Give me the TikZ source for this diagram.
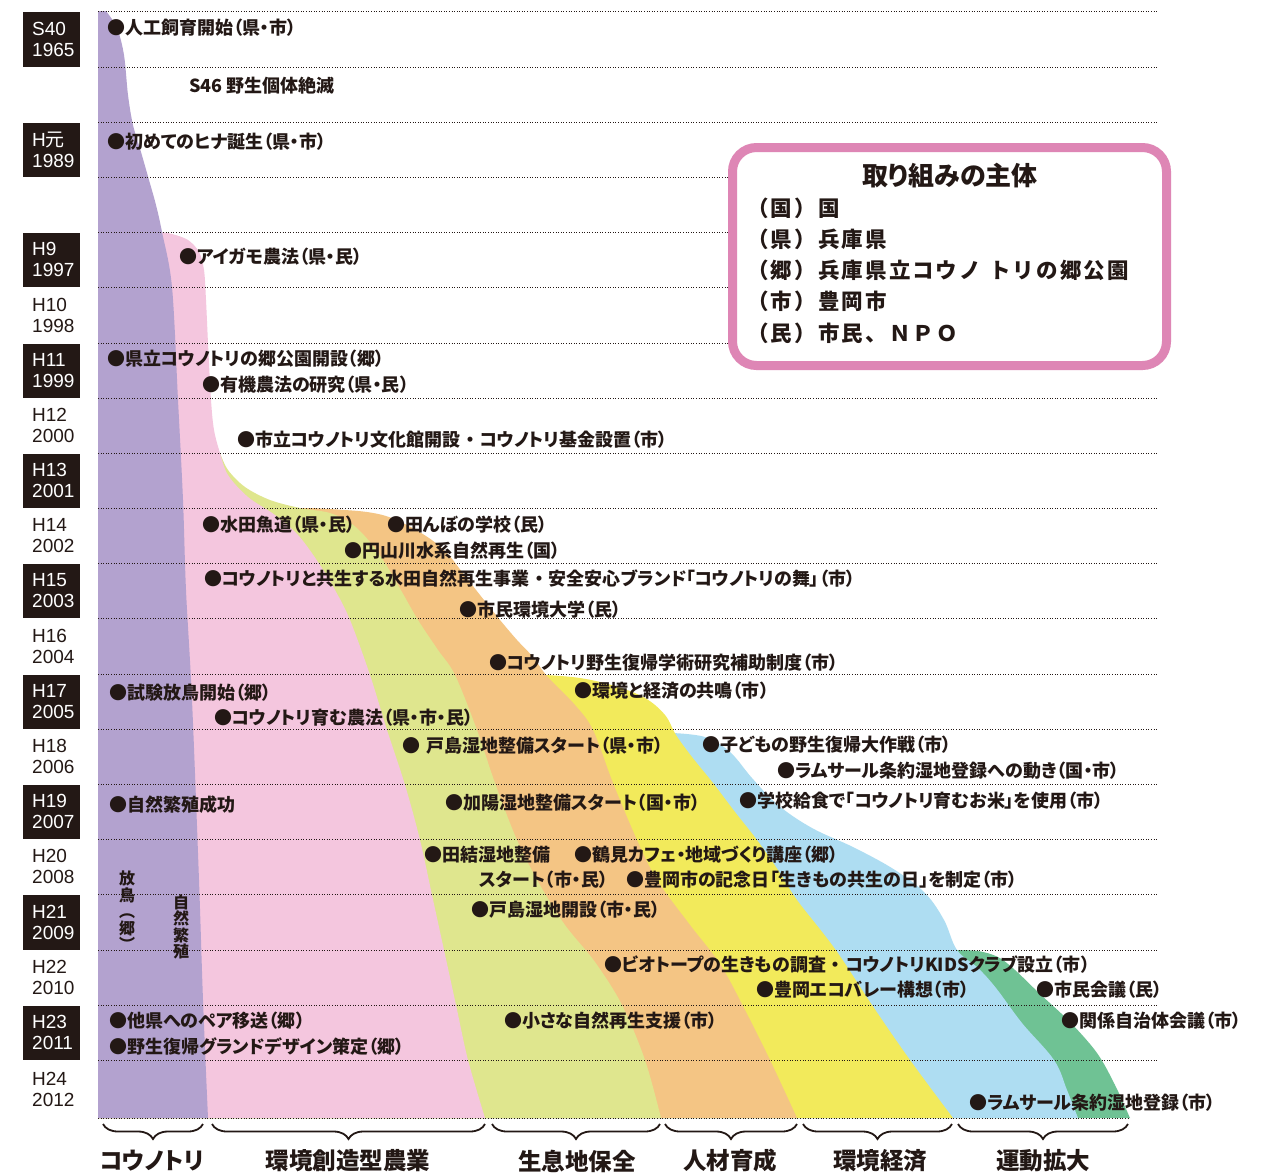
\documentclass[tikz,border=0pt]{standalone}
\usepackage{fontspec}
\setmainfont{Noto Sans CJK JP}[RawFeature=+palt]
\newfontfamily\jpf{Noto Sans CJK JP}
\newfontfamily\jpwide[LetterSpace=10]{Noto Sans CJK JP}
\newfontfamily\yrf{Liberation Sans}
\usetikzlibrary{decorations.pathreplacing}
\definecolor{ink}{HTML}{231815}
\definecolor{cPur}{HTML}{B3A2CF}
\definecolor{cPnk}{HTML}{F4C6DE}
\definecolor{cLgr}{HTML}{DFE68E}
\definecolor{cOra}{HTML}{F4C584}
\definecolor{cYel}{HTML}{F2EA5B}
\definecolor{cBlu}{HTML}{AEDDF2}
\definecolor{cGrn}{HTML}{6FC294}
\definecolor{cLeg}{HTML}{DE86B5}
\newcommand\midsep{\hspace{0.3em}・\hspace{0.3em}}
\tikzset{
 lbl/.style={anchor=west, inner sep=0pt, text=ink, font=\bfseries\fontsize{18}{20}\selectfont},
 yrtxt/.style={anchor=west, inner sep=0pt, align=left, font=\yrf\fontsize{19}{21}\selectfont},
 gline/.style={draw=ink, line width=0.9pt, dash pattern=on 0.9pt off 1.7pt},
 cat/.style={inner sep=0pt, text=ink, font=\bfseries\fontsize{23.5}{26}\selectfont},
 brc/.style={draw=ink, line width=1.8pt, decorate, decoration={brace, mirror, amplitude=15pt}},
 vtxt/.style={inner sep=0pt, align=center, text=ink, font=\jpf\bfseries\fontsize{16}{16.5}\selectfont},
 leg/.style={anchor=west, inner sep=0pt, text=ink, font=\jpwide\bfseries\fontsize{21.5}{24}\selectfont},
}
\begin{document}
\begin{tikzpicture}[x=1pt,y=-1pt]
\fill[white] (0,0) rectangle (1278,1176);
\useasboundingbox (0,0) rectangle (1278,1176);

% ---- stream layers (outer first) ----
\fill[cGrn] (98,1118) -- (98,950) -- plot[smooth,tension=0.55] coordinates {(955,950) (978,951) (998,957) (1015,970) (1040,994) (1070,1022) (1097,1053) (1115,1085) (1130,1118)} -- cycle;
\fill[cBlu] (98,1118) -- (98,733) -- plot[smooth,tension=0.6] coordinates {(672,733) (705,737) (730,752) (752,778) (778,805) (812,828) (855,848) (895,870) (925,893) (944,920) (957,950) (978,968) (996,988) (1022,1023) (1054,1060) (1067,1090) (1078,1118)} -- cycle;
\fill[cYel] (98,1118) -- (98,676) -- plot[smooth,tension=0.6] coordinates {(545,675) (580,678) (615,686) (645,698) (665,715) (676,735) (692,757) (713,783) (735,812) (757,840) (778,870) (797,900) (835,949) (872,1005) (910,1060) (953,1118)} -- cycle;
\fill[cOra] (98,1118) -- (98,508) -- plot[smooth,tension=0.55] coordinates {(312,508) (345,510) (367,512) (386,516) (405,524) (429,538) (447,553) (462,572) (480,595) (500,620) (517,640) (533,657) (547,676) (575,705) (593,730) (613,783) (637,840) (657,880) (690,925) (720,964) (745,1010) (770,1060) (797,1118)} -- cycle;
\fill[cLgr] (98,1118) -- (98,453) -- plot[smooth,tension=0.55] coordinates {(220,453) (228,470) (245,487) (270,500) (300,508) (330,513) (352,524) (370,542) (385,563) (402,592) (418,620) (438,650) (455,675) (477,730) (495,783) (517,840) (540,885) (565,925) (595,962) (622,1005) (645,1060) (661,1118)} -- cycle;
\fill[cPnk] (98,1118) -- (98,232) -- plot[smooth,tension=0.55] coordinates {(160,232) (172,234) (188,240) (199,252) (204,270) (206,300) (208,343) (211,400) (214,430) (220,453) (228,475) (248,497) (275,515) (298,535) (318,562) (335,590) (350,620) (370,675) (387,730) (405,785) (420,840) (432,895) (444,950) (456,1005) (468,1060) (485,1118)} -- cycle;
\fill[cPur] (98,1118) -- (98,11) -- plot[smooth,tension=0.55] coordinates {(106,11) (117,28) (124,55) (128,95) (133,125) (141,152) (149,180) (156,205) (162,232) (172,287) (178,400) (183,500) (186,590) (192,700) (199,880) (203,1000) (208,1118)} -- cycle;

% ---- dotted row lines ----
\foreach \yy in {11,67,122,177,232,287,343,398,453,508,563,618,674,729,784,839,894,950,1005,1060}
  \draw[gline] (98,\yy) -- (1158,\yy);
\draw[gline] (98,1118) -- (1130,1118);

% ---- year labels ----
\foreach \lab/\yv/\ta/\tb in {S40/1965/11/67, H9/1997/232/287, H11/1999/343/398, H13/2001/453/508, H15/2003/563/618, H17/2005/674/729, H19/2007/784/839, H21/2009/894/950, H23/2011/1005/1060}{
  \fill[ink] (23,\ta+0.5) rectangle (80,\tb-0.5);
  \node[yrtxt, text=white] (yr\yv) at (32,{(\ta+\tb)/2}) {\lab\\\yv};
}
\fill[ink] (23,122.5) rectangle (80,176.5);
\node[yrtxt, text=white] (yr1989) at (32,149.5) {H{\jpf 元}\\1989};
\foreach \lab/\yv/\ta/\tb in {H10/1998/287/343, H12/2000/398/453, H14/2002/508/563, H16/2004/618/674, H18/2006/729/784, H20/2008/839/894, H22/2010/950/1005, H24/2012/1060/1118}{
  \node[yrtxt, text=ink] (yr\yv) at (32,{(\ta+\tb)/2}) {\lab\\\yv};
}

% ---- event labels ----
\node[lbl] (t1) at (107,28) {●人工飼育開始（県・市）};
\node[lbl] (t2) at (189,86) {S46 野生個体絶滅};
\node[lbl] (t3) at (107,142) {●初めてのヒナ誕生（県・市）};
\node[lbl] (t4) at (179,257) {●アイガモ農法（県・民）};
\node[lbl] (t5) at (107,359) {●県立コウノトリの郷公園開設（郷）};
\node[lbl] (t6) at (202,385) {●有機農法の研究（県・民）};
\node[lbl] (t7) at (237,440) {●市立コウノトリ文化館開設\midsep コウノトリ基金設置（市）};
\node[lbl] (t8) at (202,525) {●水田魚道（県・民）};
\node[lbl] (t9) at (387,525) {●田んぼの学校（民）};
\node[lbl] (t10) at (344,551) {●円山川水系自然再生（国）};
\node[lbl] (t11) at (204,579) {●コウノトリと共生する水田自然再生事業\midsep 安全安心ブランド「コウノトリの舞」（市）};
\node[lbl] (t12) at (459,610) {●市民環境大学（民）};
\node[lbl] (t13) at (489,663) {●コウノトリ野生復帰学術研究補助制度（市）};
\node[lbl] (t14) at (109,693) {●試験放鳥開始（郷）};
\node[lbl] (t15) at (574,691) {●環境と経済の共鳴（市）};
\node[lbl] (t16) at (214,718) {●コウノトリ育む農法（県・市・民）};
\node[lbl] (t17) at (402,746) {●\hspace{0.35em}戸島湿地整備スタート（県・市）};
\node[lbl] (t18) at (702,745) {●子どもの野生復帰大作戦（市）};
\node[lbl] (t19) at (777,771) {●ラムサール条約湿地登録への動き（国・市）};
\node[lbl] (t20) at (109,805) {●自然繁殖成功};
\node[lbl] (t21) at (445,803) {●加陽湿地整備スタート（国・市）};
\node[lbl] (t22) at (739,801) {●学校給食で「コウノトリ育むお米」を使用（市）};
\node[lbl] (t23) at (424,855) {●田結湿地整備};
\node[lbl] (t24) at (479,880) {スタート（市・民）};
\node[lbl] (t25) at (574,855) {●鶴見カフェ・地域づくり講座（郷）};
\node[lbl] (t26) at (626,880) {●豊岡市の記念日「生きもの共生の日」を制定（市）};
\node[lbl] (t27) at (471,910) {●戸島湿地開設（市・民）};
\node[lbl] (t28) at (604,965) {●ビオトープの生きもの調査\midsep コウノトリKIDSクラブ設立（市）};
\node[lbl] (t29) at (756,990) {●豊岡エコバレー構想（市）};
\node[lbl] (t30) at (1036,990) {●市民会議（民）};
\node[lbl] (t31) at (109,1021) {●他県へのペア移送（郷）};
\node[lbl] (t32) at (504,1021) {●小さな自然再生支援（市）};
\node[lbl] (t33) at (1061,1021) {●関係自治体会議（市）};
\node[lbl] (t34) at (109,1047) {●野生復帰グランドデザイン策定（郷）};
\node[lbl] (t35) at (969,1103) {●ラムサール条約湿地登録（市）};

% ---- vertical texts ----
\node[vtxt] (v1) at (127,911) {放\\鳥\\︵\\郷\\︶};
\node[vtxt] (v2) at (181,927) {自\\然\\繁\\殖};

% ---- legend ----
\draw[line width=9pt, draw=cLeg, fill=white, rounded corners=24pt] (732.5,147.5) rectangle (1166.5,365.5);
\node[inner sep=0pt, text=ink, font=\bfseries\fontsize{26}{28}\selectfont] (lgt) at (950,176) {取り組みの主体};
\node[leg] (lg1) at (747,208) {（国）国};
\node[leg] (lg2) at (747,239) {（県）兵庫県};
\node[leg] (lg3) at (747,270) {（郷）兵庫県立コウノ\hspace{0.4em}トリの郷公園};
\node[leg] (lg4) at (747,301) {（市）豊岡市};
\node[leg] (lg5) at (747,333) {（民）市民、ＮＰＯ};

% ---- braces and categories ----
\draw[brc] (103,1124) -- (203,1124);
\draw[brc] (212,1124) -- (485,1124);
\draw[brc] (492,1124) -- (660,1124);
\draw[brc] (665,1124) -- (797,1124);
\draw[brc] (803,1124) -- (952,1124);
\draw[brc] (958,1124) -- (1128,1124);
\node[cat] (c1) at (152,1161) {コウノトリ};
\node[cat] (c2) at (348,1161) {環境創造型農業};
\node[cat] (c3) at (577,1161) {生息地保全};
\node[cat] (c4) at (730,1161) {人材育成};
\node[cat] (c5) at (880,1161) {環境経済};
\node[cat] (c6) at (1043,1161) {運動拡大};
\end{tikzpicture}
\end{document}
